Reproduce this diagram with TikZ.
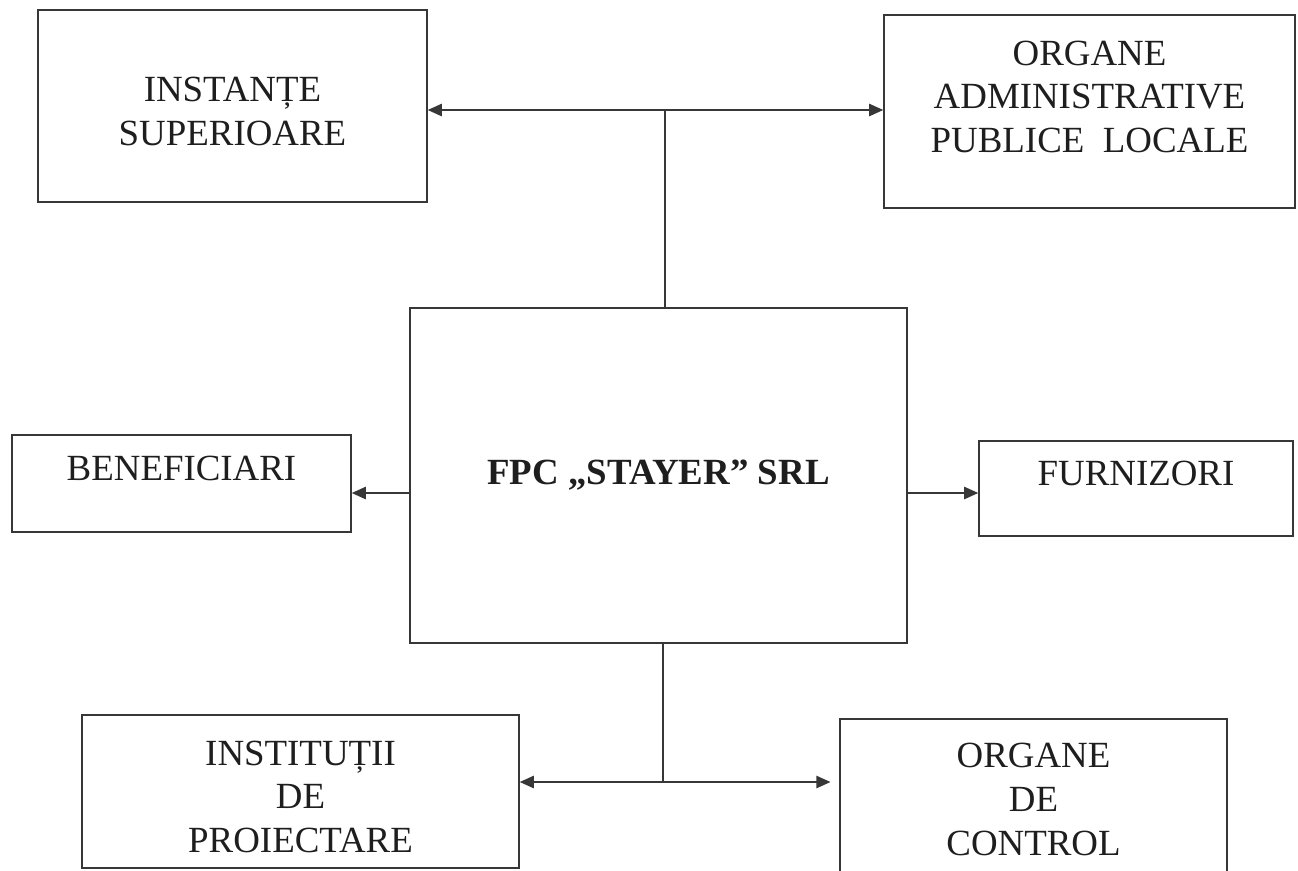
\documentclass[tikz,border=0pt]{standalone}
\usepackage{fontspec}
\setmainfont{Liberation Serif}
\usepackage{xcolor}
\usepackage{tikz}
\usetikzlibrary{arrows.meta, positioning, calc}
\definecolor{boxline}{RGB}{55, 55, 55}
\definecolor{boxtext}{RGB}{30, 30, 30}
\tikzset{
    orgbox/.style={
        rectangle,
        draw=boxline,
        line width=0.9pt,
        align=center,
        text=boxtext,
        inner sep=0pt,
        font=\fontsize{21}{24.8}\selectfont
    },
    onerow/.style={
        text height=0.5cm,
        text depth=0.63cm
    },
    link/.style={
        draw=boxline,
        line width=0.9pt
    }
}

\begin{document}
\begin{tikzpicture}[
        x=0.02cm, y=-0.02cm,
        >={Triangle[length=8pt, width=7pt]}
    ]
        \clip (0,0) rectangle (1298,870);

        % outer bodies
        \node[orgbox, minimum width=7.78cm, minimum height=3.84cm, text height=1.56cm, text depth=0pt] (inst) at (232.5,106) {INSTANȚE\\SUPERIOARE};
        \node[orgbox, minimum width=8.22cm, minimum height=3.86cm, text height=2.24cm, text depth=0.6cm] (adm) at (1089.5,111.5) {ORGANE\\ADMINISTRATIVE\\PUBLICE~~LOCALE};

        % the firm
        \node[orgbox, minimum width=9.94cm, minimum height=6.7cm, font=\fontsize{21}{24.8}\selectfont\bfseries] (firm) at (658.5,475.5) {FPC „STAYER” SRL};

        \node[orgbox, onerow, minimum width=6.78cm, minimum height=1.94cm] (benef) at (181.5,483.5) {BENEFICIARI};
        \node[orgbox, onerow, minimum width=6.28cm, minimum height=1.9cm] (furn) at (1136,488.5) {FURNIZORI};

        \node[orgbox, minimum width=8.74cm, minimum height=3.06cm, text height=2.44cm, text depth=0pt] (proj) at (300.5,791.5) {INSTITUȚII\\DE\\PROIECTARE};
        \node[orgbox, minimum width=7.74cm, minimum height=3.22cm] (ctrl) at (1033.5,799.5) {ORGANE\\DE\\CONTROL};

        % junctions
        \coordinate (topj) at (665,110);
        \coordinate (midrow) at (0,493);
        \coordinate (botj) at (663,782);

        \draw[link] (firm.north -| topj) -- (topj);
        \draw[link, <->] (inst.east |- topj) -- (adm.west |- topj);

        \draw[link, ->] (firm.west |- midrow) -- (benef.east |- midrow);
        \draw[link, ->] (firm.east |- midrow) -- (furn.west |- midrow);

        \draw[link] (firm.south -| botj) -- (botj);
        \draw[link, <->] (proj.east |- botj) -- ([xshift=-5pt]ctrl.west |- botj);
    \end{tikzpicture}
\end{document}
